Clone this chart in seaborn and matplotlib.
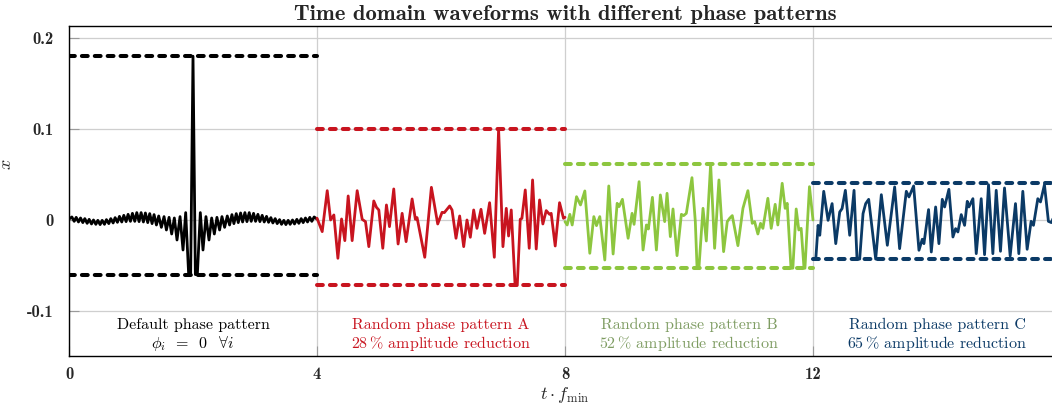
import matplotlib
matplotlib.use("Agg")
import matplotlib.pyplot as plt
import numpy as np
import pandas as pd
import seaborn as sns

# ---------------- data ----------------
segment_start = [0, 4, 8, 12]
segment_names = ["Default phase pattern", "Random phase pattern A",
                 "Random phase pattern B", "Random phase pattern C"]
segment_sub = [r"$\phi_i\;\;=\;\;0\;\;\;\forall i$",
               r"28$\,$% amplitude reduction",
               r"52$\,$% amplitude reduction",
               r"65$\,$% amplitude reduction"]
env_upper = [0.18, 0.10, 0.0615, 0.041]
env_lower = [-0.06, -0.072, -0.053, -0.043]
line_colors = ["#000000", "#C8141F", "#8DC63F", "#0B3A66"]
text_colors = ["#000000", "#C8141F", "#7E9C62", "#0B3A66"]

black_pts = [
    (0.0, 0.001), (0.046, 0.0033), (0.084, -0.0015), (0.116, 0.0029), (0.153, -0.0022),
    (0.186, 0.0022), (0.223, -0.0029), (0.255, 0.0015), (0.293, -0.0037), (0.325, 0.0007),
    (0.363, -0.0044), (0.395, 0.0), (0.433, -0.0048), (0.465, -0.0004), (0.502, -0.0051),
    (0.535, -0.0004), (0.572, -0.0048), (0.604, 0.0004), (0.642, -0.004), (0.674, 0.0015),
    (0.712, -0.0033), (0.744, 0.0026), (0.781, -0.0026), (0.814, 0.004), (0.851, -0.0022),
    (0.884, 0.0051), (0.921, -0.0018), (0.953, 0.0062), (0.991, -0.0015), (1.023, 0.0073),
    (1.061, -0.0015), (1.093, 0.0081), (1.130, -0.0018), (1.163, 0.0081), (1.200, -0.0022),
    (1.232, 0.0077), (1.270, -0.0029), (1.302, 0.007), (1.340, -0.004), (1.372, 0.0059),
    (1.410, -0.0055), (1.447, 0.0044), (1.490, -0.0081), (1.533, 0.0037), (1.571, -0.011),
    (1.614, 0.0029), (1.656, -0.0154), (1.699, 0.0022), (1.742, -0.022), (1.791, 0.0037),
    (1.839, -0.033), (1.882, 0.0081), (1.930, -0.06), (1.962, -0.06), (2.0, 0.18),
    (2.038, -0.06), (2.070, -0.06), (2.118, 0.0081), (2.161, -0.033), (2.209, 0.0037),
    (2.258, -0.022), (2.301, 0.0022), (2.344, -0.0154), (2.386, 0.0029), (2.429, -0.011),
    (2.467, 0.0037), (2.510, -0.0081), (2.553, 0.0044), (2.590, -0.0055), (2.628, 0.0059),
    (2.660, -0.004), (2.698, 0.007), (2.730, -0.0029), (2.768, 0.0077), (2.800, -0.0022),
    (2.837, 0.0081), (2.870, -0.0018), (2.907, 0.0081), (2.939, -0.0015), (2.977, 0.0073),
    (3.009, -0.0015), (3.047, 0.0062), (3.079, -0.0018), (3.116, 0.0051), (3.149, -0.0022),
    (3.186, 0.004), (3.219, -0.0026), (3.256, 0.0026), (3.288, -0.0033), (3.326, 0.0015),
    (3.358, -0.004), (3.396, 0.0004), (3.428, -0.0048), (3.465, -0.0004), (3.498, -0.0051),
    (3.535, -0.0004), (3.567, -0.0048), (3.605, 0.0), (3.637, -0.0044), (3.675, 0.0007),
    (3.707, -0.0037), (3.745, 0.0015), (3.777, -0.0029), (3.814, 0.0022), (3.847, -0.0022),
    (3.884, 0.0029), (3.916, -0.0015), (3.954, 0.0033), (4.0, 0.001),
]

red_pts = [
    (4.0, 0.002), (4.084, -0.0128), (4.165, 0.0322), (4.219, 0.0), (4.272, 0.0055),
    (4.337, -0.0421), (4.396, 0.0011), (4.449, -0.0227), (4.503, 0.0264), (4.567, -0.0227),
    (4.648, 0.0322), (4.729, 0.0007), (4.782, -0.0018), (4.836, -0.0293), (4.916, 0.0209),
    (4.959, 0.0139), (4.997, 0.011), (5.061, -0.0311), (5.120, 0.0165), (5.169, -0.0073),
    (5.238, 0.0341), (5.308, -0.0264), (5.373, 0.0073), (5.437, -0.0238), (5.534, 0.0231),
    (5.587, 0.0007), (5.614, 0.0026), (5.738, -0.041), (5.845, 0.0359), (5.947, -0.0044),
    (6.017, 0.0084), (6.054, 0.0081), (6.140, 0.0154), (6.178, 0.011), (6.242, -0.0201),
    (6.301, 0.0044), (6.366, -0.0293), (6.419, 0.0), (6.473, -0.019), (6.527, 0.011),
    (6.580, -0.0092), (6.645, 0.0117), (6.704, -0.0147), (6.784, 0.019), (6.860, -0.041),
    (6.929, 0.1), (6.999, -0.0293), (7.053, 0.0128), (7.090, -0.0176), (7.133, 0.011),
    (7.195, -0.072), (7.230, -0.072), (7.278, 0.0007), (7.305, 0.0018), (7.359, 0.033),
    (7.423, -0.0311), (7.477, 0.044), (7.536, -0.0319), (7.590, 0.022), (7.643, -0.0044),
    (7.697, 0.0103), (7.751, 0.0062), (7.777, 0.0073), (7.842, -0.0286), (7.912, 0.019),
    (7.976, 0.0018), (8.0, 0.003),
]

green_pts = [
    (8.0, -0.0018), (8.035, -0.0055), (8.078, 0.0062), (8.116, -0.0055), (8.186, 0.0256),
    (8.250, 0.0165), (8.320, 0.0319), (8.400, -0.0366), (8.465, 0.0037), (8.508, -0.0062),
    (8.561, 0.0037), (8.642, -0.044), (8.706, 0.0374), (8.776, -0.0374), (8.841, 0.0183),
    (8.873, 0.0147), (8.926, 0.0227), (9.018, -0.0201), (9.082, 0.0073), (9.114, -0.0048),
    (9.195, 0.0421), (9.259, -0.033), (9.313, -0.0055), (9.345, -0.0099), (9.410, 0.0249),
    (9.474, -0.033), (9.538, 0.0275), (9.608, -0.0018), (9.646, 0.0293), (9.699, -0.0183),
    (9.742, 0.0121), (9.807, -0.0392), (9.877, 0.0062), (9.914, 0.0048), (9.957, 0.0073),
    (10.048, 0.0465), (10.102, -0.0018), (10.13, -0.053), (10.16, -0.053), (10.226, 0.0128),
    (10.279, -0.0231), (10.349, 0.0615), (10.413, -0.0311), (10.483, 0.044), (10.558, -0.0348),
    (10.617, -0.0018), (10.655, 0.0018), (10.698, 0.0048), (10.789, -0.0282), (10.870, 0.0128),
    (10.950, 0.0322), (11.020, -0.0037), (11.058, -0.0018), (11.111, -0.0154), (11.154, -0.0037),
    (11.192, -0.0092), (11.272, 0.0238), (11.326, -0.0092), (11.390, 0.0172), (11.433, -0.0055),
    (11.503, 0.0403), (11.551, 0.0128), (11.584, 0.0183), (11.645, -0.053), (11.675, -0.053),
    (11.729, 0.0121), (11.771, -0.011), (11.809, -0.0092), (11.855, -0.053), (11.870, -0.053),
    (11.943, 0.0366), (12.0, 0.0),
]

blue_pts = [
    (12.0, -0.043), (12.045, -0.043), (12.082, -0.0059), (12.109, -0.0168), (12.173, 0.0315),
    (12.243, -0.0004), (12.308, 0.018), (12.367, -0.026), (12.431, 0.0088), (12.469, 0.0125),
    (12.522, 0.0326), (12.592, -0.0168), (12.662, 0.0326), (12.710, -0.043), (12.753, -0.043),
    (12.807, 0.007), (12.850, 0.018), (12.898, 0.0227), (13.011, -0.043), (13.102, 0.0278),
    (13.199, -0.0278), (13.317, 0.0363), (13.397, -0.0315), (13.505, 0.0315), (13.548, 0.0253),
    (13.623, 0.0374), (13.709, -0.0333), (13.762, -0.0212), (13.789, -0.026), (13.864, 0.0114),
    (13.908, -0.0352), (13.978, 0.0143), (14.031, -0.026), (14.085, 0.0227), (14.123, 0.0143),
    (14.192, 0.0337), (14.257, -0.0187), (14.300, -0.0095), (14.337, -0.0132), (14.391, 0.0059),
    (14.445, -0.0059), (14.488, 0.0205), (14.514, 0.0143), (14.579, 0.0234), (14.633, -0.037),
    (14.713, 0.0234), (14.767, -0.0381), (14.831, 0.0388), (14.901, -0.037), (14.955, 0.0326),
    (15.024, -0.0344), (15.089, 0.0352), (15.180, -0.0396), (15.266, 0.018), (15.320, -0.037),
    (15.384, 0.0315), (15.454, -0.0322), (15.518, -0.0015), (15.556, -0.0059), (15.626, 0.0234),
    (15.669, 0.0198), (15.733, 0.0388), (15.797, -0.0015), (15.846, -0.0029), (15.92, 0.01),
    (16.0, 0.0),
]

x_ticks = [0, 4, 8, 12]
x_ticklabels = ["0", "4", "8", "12"]
y_ticks = [-0.1, 0.0, 0.1, 0.2]
y_ticklabels = ["-0.1", "0", "0.1", "0.2"]

# ---------------- style ----------------
sns.set_theme(style="white")
plt.rcParams["font.family"] = ["cmr10", "DejaVu Serif"]
plt.rcParams["mathtext.fontset"] = "cm"
plt.rcParams["axes.unicode_minus"] = False
plt.rcParams["axes.formatter.use_mathtext"] = True

fig = plt.figure(figsize=(10.52, 4.05), dpi=100)
ax = fig.add_axes([69 / 1052, 49 / 405, 992 / 1052, 330 / 405])

ax.grid(True, color="#cfcfcf", linewidth=0.9)
ax.set_axisbelow(True)

series = [black_pts, red_pts, green_pts, blue_pts]
for i, pts in enumerate(series):
    df = pd.DataFrame(pts, columns=["t", "x"])
    sns.lineplot(data=df, x="t", y="x", sort=False, estimator=None,
                 color=line_colors[i], linewidth=2.0, ax=ax, zorder=3)
    s = segment_start[i]
    for lev in (env_upper[i], env_lower[i]):
        ax.plot([s, s + 4], [lev, lev], color=line_colors[i], linewidth=2.9,
                linestyle=(0, (1.45, 1.75)), dash_capstyle="round", zorder=4)
    ax.text(s + 2, -0.1155, segment_names[i], ha="center", va="center",
            fontsize=11.5, color=text_colors[i])
    ax.text(s + 2, -0.1355, segment_sub[i], ha="center", va="center",
            fontsize=11.5, color=text_colors[i])

for line in ax.get_lines():
    line.set_solid_joinstyle("round")

ax.set_xlim(0, 16)
ax.set_ylim(-0.1495, 0.2132)
ax.set_xticks(x_ticks)
ax.set_xticklabels(x_ticklabels, fontfamily="cmb10", fontsize=12)
ax.set_yticks(y_ticks)
ax.set_yticklabels(y_ticklabels, fontfamily="cmb10", fontsize=12)
ax.tick_params(axis="x", direction="in", length=7, width=0.8, color="#9a9a9a",
               bottom=True, pad=8)
ax.tick_params(axis="y", direction="in", length=7, width=0.8, color="#9a9a9a",
               left=True, pad=11)

for sp in ax.spines.values():
    sp.set_color("black")
    sp.set_linewidth(1.0)

ax.set_xlabel(r"$t\cdot f_{\min}$", fontsize=13, labelpad=2)
ax.set_ylabel(r"$x$", fontsize=13)
ax.yaxis.set_label_coords(-0.0555, 0.58)
ax.set_title("Time domain waveforms with different phase patterns",
             fontfamily="cmb10", fontsize=16.3, pad=4)

fig.savefig("out.png", dpi=100)
